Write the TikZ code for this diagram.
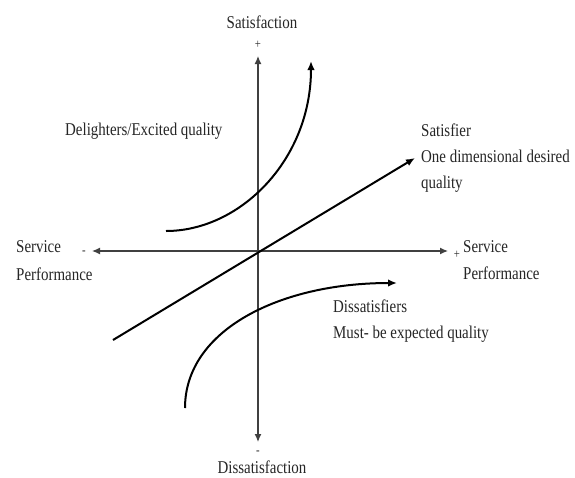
\documentclass[tikz,border=0pt]{standalone}
\usepackage{fontspec}
\setmainfont{Liberation Serif}[FakeStretch=0.83]
\usetikzlibrary{arrows.meta}
\begin{document}
\begin{tikzpicture}[x=1pt,y=-1pt,
  axis/.style={draw=black!75,line width=1.3pt,{Latex[length=8pt,width=7pt]}-{Latex[length=8pt,width=7pt]}},
  curve/.style={draw=black,line width=2pt,-{Latex[length=9pt,width=7.5pt]}},
  lbl/.style={inner sep=0pt,text=black!85,font=\fontsize{18}{26}\selectfont},
  sign/.style={inner sep=0pt,text=black!85,font=\fontsize{13}{14}\selectfont}]
\useasboundingbox[fill=white] (0,0) rectangle (575,477);
% axis ends
\coordinate (top) at (258,56);
\coordinate (bottom) at (258,442);
\coordinate (left) at (92,251);
\coordinate (right) at (448,251);
\draw[axis] (bottom) -- (top);
\draw[axis] (left) -- (right);
% curve ends
\coordinate (satS) at (113,340);
\coordinate (satE) at (415,158);
\coordinate (delS) at (166,231);
\coordinate (delE) at (311,61);
\coordinate (disS) at (185,408);
\coordinate (disE) at (397,283);
\draw[curve] (satS) -- (satE);
\draw[curve] (delS) .. controls (240,231) and (311,160) .. (delE);
\draw[curve] (disS) .. controls (185,330) and (280,283) .. (disE);
% labels
\node[lbl,anchor=base] (tSat) at (262,28) {Satisfaction};
\node[sign] (pTop) at (258,45) {+};
\node[lbl,anchor=base] (tDis) at (262,473) {Dissatisfaction};
\node[sign] (mBot) at (258,453) {-};
\node[lbl,anchor=base west] (lServ) at (16,252) {Service};
\node[lbl,anchor=base west] (lPerf) at (16,280) {Performance};
\node[sign] (mLeft) at (84,253) {-};
\node[sign] (pRight) at (457,255) {+};
\node[lbl,anchor=base west] (rServ) at (463,252) {Service};
\node[lbl,anchor=base west] (rPerf) at (463,279) {Performance};
\node[lbl,anchor=base west] (tDel) at (65,135) {Delighters/Excited quality};
\node[lbl,anchor=base west] (tSf1) at (421,136) {Satisfier};
\node[lbl,anchor=base west] (tSf2) at (421,162) {One dimensional desired};
\node[lbl,anchor=base west] (tSf3) at (421,188) {quality};
\node[lbl,anchor=base west] (tDs1) at (333,312) {Dissatisfiers};
\node[lbl,anchor=base west] (tDs2) at (333,338) {Must- be expected quality};
\end{tikzpicture}
\end{document}
